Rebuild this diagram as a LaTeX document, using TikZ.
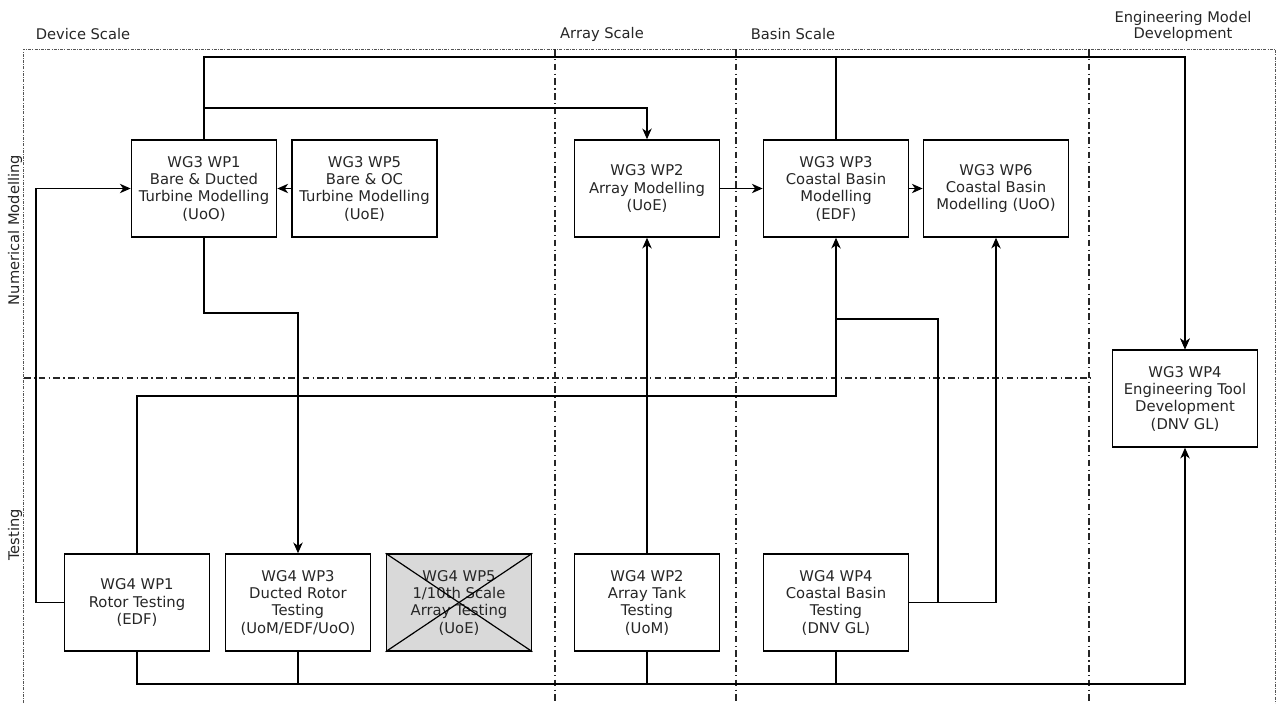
\documentclass[tikz,border=0pt]{standalone}
\usepackage{fontspec}
\setmainfont{DejaVu Sans}
\usetikzlibrary{arrows.meta}
\definecolor{txt}{HTML}{262626}
\definecolor{boxgray}{HTML}{D9D9D9}
\definecolor{framec}{HTML}{555555}
\tikzset{
  wpbox/.style={draw, line width=1.1pt, minimum width=109pt, minimum height=72.75pt,
    inner sep=0pt, align=center, text=txt, font=\fontsize{11.1}{13}\selectfont},
  lbl/.style={text=txt, inner sep=0pt, align=center, font=\fontsize{11}{12}\selectfont},
  conn/.style={line width=1.1pt},
  arr/.style={conn, -{Stealth[length=8pt,width=7pt,inset=2.4pt]}},
  ddline/.style={line width=0.9pt, color=black!85, dash pattern=on 5pt off 2.5pt on 1pt off 2.5pt},
  framel/.style={line width=0.55pt, color=framec, dash pattern=on 2.2pt off 1pt on 0.6pt off 1pt}
}
\begin{document}
\begin{tikzpicture}[x=0.75pt,y=-0.75pt]
\useasboundingbox (0,0) rectangle (1277,703);

% frame and scale dividers
\draw[framel] (23,703) -- (23,49) -- (1275,49) -- (1275,703);
\draw[ddline] (555,49) -- (555,703);
\draw[ddline] (736,49) -- (736,703);
\draw[ddline] (1089,49) -- (1089,703);
\draw[ddline] (24,378) -- (1093,378);

% labels
\node[lbl] (lDevice) at (83,34) {Device Scale};
\node[lbl] (lArray) at (602,34) {Array Scale};
\node[lbl] (lBasin) at (793,34) {Basin Scale};
\node[lbl] (lEng) at (1183,26) {Engineering Model\\Development};
\node[lbl, rotate=90] (lNum) at (15,230) {Numerical Modelling};
\node[lbl, rotate=90] (lTest) at (15,535) {Testing};

% numerical modelling boxes
\node[wpbox] (g3wp1) at (204,188.5) {WG3 WP1\\Bare \& Ducted\\Turbine Modelling\\(UoO)};
\node[wpbox] (g3wp5) at (364.5,188.5) {WG3 WP5\\Bare \& OC\\Turbine Modelling\\(UoE)};
\node[wpbox] (g3wp2) at (647,188.5) {WG3 WP2\\Array Modelling\\(UoE)};
\node[wpbox] (g3wp3) at (836,188.5) {WG3 WP3\\Coastal Basin\\Modelling\\(EDF)};
\node[wpbox] (g3wp6) at (996,188.5) {WG3 WP6\\Coastal Basin\\Modelling (UoO)};
\node[wpbox] (g3wp4) at (1185,398.5) {WG3 WP4\\Engineering Tool\\Development\\(DNV GL)};

% testing boxes
\node[wpbox] (g4wp1) at (137,602.5) {WG4 WP1\\Rotor Testing\\(EDF)};
\node[wpbox] (g4wp3) at (298,602.5) {WG4 WP3\\Ducted Rotor\\Testing\\(UoM/EDF/UoO)};
\node[wpbox, fill=boxgray] (g4wp5) at (459,602.5) {WG4 WP5\\1/10th Scale\\Array Testing\\(UoE)};
\draw[line width=0.9pt] (g4wp5.north west) -- (g4wp5.south east);
\draw[line width=0.9pt] (g4wp5.south west) -- (g4wp5.north east);
\node[wpbox] (g4wp2) at (647,602.5) {WG4 WP2\\Array Tank\\Testing\\(UoM)};
\node[wpbox] (g4wp4) at (836,602.5) {WG4 WP4\\Coastal Basin\\Testing\\(DNV GL)};

% junction coordinates
\coordinate (jtop) at (1185,57);
\coordinate (j108) at (204,108);
\coordinate (jleft) at (36,602.5);
\coordinate (jmid) at (298,313);
\coordinate (j396) at (836,396);
\coordinate (jwp4) at (938,602.5);
\coordinate (jwp3) at (836,319);
\coordinate (jbus) at (0,684);

% connectors
\draw[arr] (g4wp1.west) -- (jleft) |- (g3wp1.west);
\draw[arr] (g3wp5.west) -- (g3wp1.east);
\draw[arr] (g3wp1.north) |- (jtop) -- (g3wp4.north);
\draw[arr, line width=1.8pt] (g3wp3.north) |- (jtop) -- (g3wp4.north);
\draw[arr] (j108) -| (g3wp2.north);
\draw[arr] (g3wp2.east) -- (g3wp3.west);
\draw[arr] (g3wp3.east) -- (g3wp6.west);
\draw[arr] (g3wp1.south) |- (jmid) -- (g4wp3.north);
\draw[arr] (g4wp1.north) |- (j396) -- (g3wp3.south);
\draw[arr] (g4wp2.north) -- (g3wp2.south);
\draw[arr] (g4wp4.east) -| (g3wp6.south);
\draw[conn] (jwp4) |- (jwp3);
\draw[arr] (g4wp1.south) |- (jbus -| g3wp4.south) -- (g3wp4.south);
\draw[conn] (g4wp3.south) -- (g4wp3.south |- jbus);
\draw[conn] (g4wp2.south) -- (g4wp2.south |- jbus);
\draw[conn] (g4wp4.south) -- (g4wp4.south |- jbus);
\end{tikzpicture}
\end{document}
